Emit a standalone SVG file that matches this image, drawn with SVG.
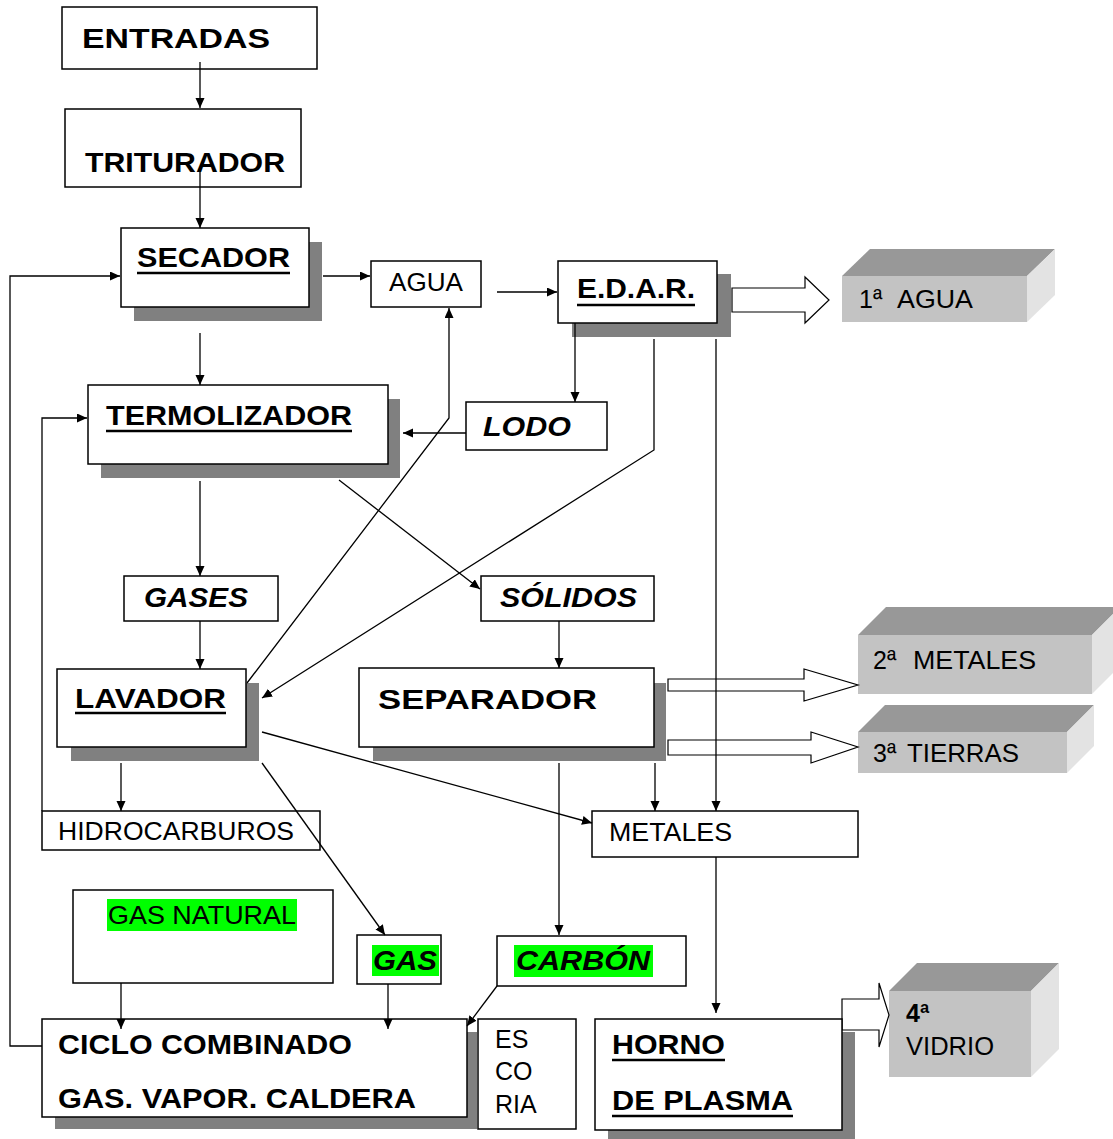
<svg xmlns="http://www.w3.org/2000/svg" width="1113" height="1139" viewBox="0 0 1113 1139">
  <defs>
    <marker id="arr" markerWidth="11" markerHeight="10" refX="10" refY="4.5" orient="auto" markerUnits="userSpaceOnUse">
      <path d="M0,0 L10,4.5 L0,9 z" fill="#000"/>
    </marker>
    <style>
      text { font-family: "Liberation Sans", Arial, sans-serif; fill: #000; }
      .box { fill: #fff; stroke: #000; stroke-width: 1.5; }
      .shadow { fill: #808080; }
      .b { font-weight: bold; font-size: 28px; }
      .bi { font-weight: bold; font-style: italic; font-size: 27px; }
      .r { font-size: 25px; }
      .ul { stroke: #000; stroke-width: 2.5; }
      .hl { fill: #00ff00; }
      .conn line, .conn polyline { stroke: #000; stroke-width: 1.3; fill: none; }
      .hollow { fill: #fff; stroke: #000; stroke-width: 1.2; }
      .front { fill: #c3c3c3; }
      .top { fill: #989898; }
      .side { fill: #e3e3e3; }
    </style>
  </defs>

  <rect width="1113" height="1139" fill="#fff"/>

  <!-- output blocks (3D) -->
  <g id="out-agua">
    <polygon class="top" points="842,276 870,249 1055,249 1027,276"/>
    <polygon class="side" points="1027,276 1055,249 1055,295 1027,322"/>
    <rect class="front" x="842" y="276" width="185" height="46"/>
    <text class="r" x="859" y="308">1ª</text>
    <text class="r" x="897" y="308" textLength="76" lengthAdjust="spacingAndGlyphs">AGUA</text>
  </g>
  <g id="out-metales">
    <polygon class="top" points="858,635 886,607 1120,607 1092,635"/>
    <polygon class="side" points="1092,635 1120,607 1120,666 1092,694"/>
    <rect class="front" x="858" y="635" width="234" height="59"/>
    <text class="r" x="873" y="669">2ª</text>
    <text class="r" x="913" y="669" textLength="123" lengthAdjust="spacingAndGlyphs">METALES</text>
  </g>
  <g id="out-tierras">
    <polygon class="top" points="858,732 885,705 1094,705 1067,732"/>
    <polygon class="side" points="1067,732 1094,705 1094,746 1067,773"/>
    <rect class="front" x="858" y="732" width="209" height="41"/>
    <text class="r" x="873" y="762">3ª</text>
    <text class="r" x="907" y="762" textLength="112" lengthAdjust="spacingAndGlyphs">TIERRAS</text>
  </g>
  <g id="out-vidrio">
    <polygon class="top" points="889,991 917,963 1059,963 1031,991"/>
    <polygon class="side" points="1031,991 1059,963 1059,1049 1031,1077"/>
    <rect class="front" x="889" y="991" width="142" height="86"/>
    <text class="r" x="906" y="1022" font-weight="bold">4ª</text>
    <text class="r" x="906" y="1055" textLength="88" lengthAdjust="spacingAndGlyphs">VIDRIO</text>
  </g>

  <!-- wide hollow arrows to the output blocks -->
  <g id="hollow-arrows">
    <polygon class="hollow" points="732,288 805,288 805,277 829,300 805,323 805,312 732,312"/>
    <polygon class="hollow" points="668,679 804,679 804,669 858,685 804,701 804,691 668,691"/>
    <polygon class="hollow" points="668,740 811,740 811,732 858,747 811,763 811,755 668,755"/>
    <polygon class="hollow" points="842,999 879,999 879,983 889,1015 879,1047 879,1030 842,1030"/>
  </g>

  <!-- process nodes -->
  <g id="entradas">
    <rect class="box" x="62" y="7" width="255" height="62"/>
    <text class="b" x="82" y="48" font-size="30" textLength="188" lengthAdjust="spacingAndGlyphs">ENTRADAS</text>
  </g>
  <g id="triturador">
    <rect class="box" x="65" y="109" width="236" height="78"/>
    <text class="b" x="85" y="172" textLength="200" lengthAdjust="spacingAndGlyphs">TRITURADOR</text>
  </g>
  <g id="secador">
    <rect class="shadow" x="134" y="242" width="188" height="79"/>
    <rect class="box" x="121" y="228" width="188" height="79"/>
    <text class="b" x="137" y="267" textLength="153" lengthAdjust="spacingAndGlyphs">SECADOR</text>
    <line class="ul" x1="137" y1="273" x2="290" y2="273"/>
  </g>
  <g id="agua">
    <rect class="box" x="371" y="261" width="110" height="46"/>
    <text class="r" x="389" y="291" textLength="74" lengthAdjust="spacingAndGlyphs">AGUA</text>
  </g>
  <g id="edar">
    <rect class="shadow" x="572" y="274" width="159" height="63"/>
    <rect class="box" x="558" y="261" width="159" height="62"/>
    <text class="b" x="577" y="298" textLength="118" lengthAdjust="spacingAndGlyphs">E.D.A.R.</text>
    <line class="ul" x1="577" y1="305" x2="695" y2="305"/>
  </g>
  <g id="termolizador">
    <rect class="shadow" x="101" y="399" width="299" height="79"/>
    <rect class="box" x="88" y="385" width="300" height="79"/>
    <text class="b" x="106" y="425" textLength="246" lengthAdjust="spacingAndGlyphs">TERMOLIZADOR</text>
    <line class="ul" x1="106" y1="431" x2="352" y2="431"/>
  </g>
  <g id="lodo">
    <rect class="box" x="466" y="402" width="141" height="48"/>
    <text class="bi" x="483" y="436" font-size="28" textLength="88" lengthAdjust="spacingAndGlyphs">LODO</text>
  </g>
  <g id="gases">
    <rect class="box" x="124" y="576" width="154" height="45"/>
    <text class="bi" x="144" y="607" textLength="104" lengthAdjust="spacingAndGlyphs">GASES</text>
  </g>
  <g id="solidos">
    <rect class="box" x="481" y="576" width="173" height="45"/>
    <text class="bi" x="500" y="607" textLength="137" lengthAdjust="spacingAndGlyphs">SÓLIDOS</text>
  </g>
  <g id="lavador">
    <rect class="shadow" x="71" y="683" width="188" height="78"/>
    <rect class="box" x="57" y="669" width="189" height="78"/>
    <text class="b" x="75" y="708" textLength="151" lengthAdjust="spacingAndGlyphs">LAVADOR</text>
    <line class="ul" x1="75" y1="713" x2="226" y2="713"/>
  </g>
  <g id="separador">
    <rect class="shadow" x="373" y="683" width="293" height="78"/>
    <rect class="box" x="359" y="668" width="295" height="79"/>
    <text class="b" x="378" y="709" textLength="219" lengthAdjust="spacingAndGlyphs">SEPARADOR</text>
  </g>
  <g id="hidrocarburos">
    <rect class="box" x="42" y="811" width="278" height="39"/>
    <text class="r" x="58" y="840" font-size="24" textLength="236" lengthAdjust="spacingAndGlyphs">HIDROCARBUROS</text>
  </g>
  <g id="metales">
    <rect class="box" x="592" y="811" width="266" height="46"/>
    <text class="r" x="609" y="841" textLength="123" lengthAdjust="spacingAndGlyphs">METALES</text>
  </g>
  <g id="gas-natural">
    <rect class="box" x="73" y="890" width="260" height="93"/>
    <rect class="hl" x="107" y="899" width="190" height="32"/>
    <text class="r" x="108" y="924" font-size="24" textLength="188" lengthAdjust="spacingAndGlyphs">GAS NATURAL</text>
  </g>
  <g id="gas">
    <rect class="box" x="357" y="935" width="84" height="49"/>
    <rect class="hl" x="372" y="945" width="67" height="31"/>
    <text class="bi" x="373" y="970" textLength="64" lengthAdjust="spacingAndGlyphs">GAS</text>
  </g>
  <g id="carbon">
    <rect class="box" x="497" y="936" width="189" height="50"/>
    <rect class="hl" x="514" y="945" width="139" height="32"/>
    <text class="bi" x="516" y="970" textLength="134" lengthAdjust="spacingAndGlyphs">CARBÓN</text>
  </g>
  <g id="ciclo-combinado">
    <rect class="shadow" x="55" y="1032" width="422" height="97"/>
    <rect class="box" x="42" y="1019" width="425" height="98"/>
    <text class="b" x="58" y="1054" textLength="294" lengthAdjust="spacingAndGlyphs">CICLO COMBINADO</text>
    <text class="b" x="58" y="1108" textLength="358" lengthAdjust="spacingAndGlyphs">GAS. VAPOR. CALDERA</text>
  </g>
  <g id="escoria">
    <rect class="box" x="478" y="1019" width="98" height="110"/>
    <text class="r" x="495" y="1048" font-size="23">ES</text>
    <text class="r" x="495" y="1080" font-size="23">CO</text>
    <text class="r" x="495" y="1113" font-size="23">RIA</text>
  </g>
  <g id="horno-plasma">
    <rect class="shadow" x="608" y="1032" width="247" height="110"/>
    <rect class="box" x="595" y="1019" width="247" height="111"/>
    <text class="b" x="612" y="1054" textLength="113" lengthAdjust="spacingAndGlyphs">HORNO</text>
    <line class="ul" x1="612" y1="1060" x2="725" y2="1060"/>
    <text class="b" x="612" y="1110" textLength="181" lengthAdjust="spacingAndGlyphs">DE PLASMA</text>
    <line class="ul" x1="612" y1="1116" x2="793" y2="1116"/>
  </g>

  <!-- connectors -->
  <g id="connectors" class="conn">
    <line x1="200" y1="62" x2="200" y2="108" marker-end="url(#arr)"/>
    <line x1="200" y1="168" x2="200" y2="228" marker-end="url(#arr)"/>
    <polyline points="42,1046 10,1046 10,276 120,276" marker-end="url(#arr)"/>
    <line x1="323" y1="276" x2="370" y2="276" marker-end="url(#arr)"/>
    <line x1="497" y1="292" x2="557" y2="292" marker-end="url(#arr)"/>
    <line x1="200" y1="333" x2="200" y2="385" marker-end="url(#arr)"/>
    <polyline points="42,811 42,418 87,418" marker-end="url(#arr)"/>
    <line x1="575" y1="323" x2="575" y2="402" marker-end="url(#arr)"/>
    <line x1="466" y1="433" x2="403" y2="433" marker-end="url(#arr)"/>
    <polyline points="654,339 654,450 262,698" marker-end="url(#arr)"/>
    <line x1="716" y1="339" x2="716" y2="811" marker-end="url(#arr)"/>
    <polyline points="247,683 449,418 449,308" marker-end="url(#arr)"/>
    <line x1="339" y1="480" x2="480" y2="589" marker-end="url(#arr)"/>
    <line x1="200" y1="481" x2="200" y2="576" marker-end="url(#arr)"/>
    <line x1="200" y1="621" x2="200" y2="669" marker-end="url(#arr)"/>
    <line x1="559" y1="621" x2="559" y2="668" marker-end="url(#arr)"/>
    <line x1="121" y1="763" x2="121" y2="811" marker-end="url(#arr)"/>
    <line x1="262" y1="732" x2="592" y2="823" marker-end="url(#arr)"/>
    <line x1="262" y1="763" x2="385" y2="935" marker-end="url(#arr)"/>
    <line x1="655" y1="763" x2="655" y2="811" marker-end="url(#arr)"/>
    <line x1="559" y1="763" x2="559" y2="935" marker-end="url(#arr)"/>
    <line x1="716" y1="857" x2="716" y2="1013" marker-end="url(#arr)"/>
    <line x1="121" y1="983" x2="121" y2="1029" marker-end="url(#arr)"/>
    <line x1="388" y1="984" x2="388" y2="1029" marker-end="url(#arr)"/>
    <line x1="497" y1="986" x2="467" y2="1026" marker-end="url(#arr)"/>
  </g>
</svg>
